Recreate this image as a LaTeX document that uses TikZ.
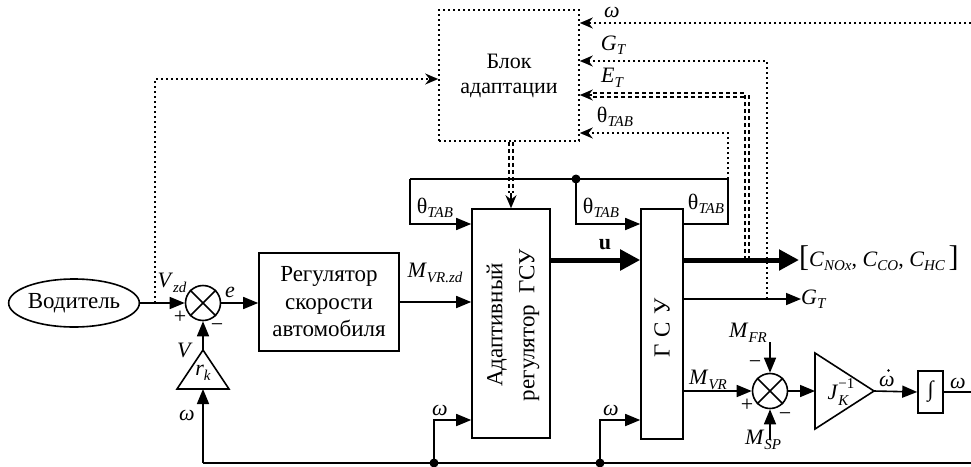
\documentclass[tikz,border=0pt]{standalone}
\usepackage{fontspec}
\setmainfont{Liberation Serif}
\usetikzlibrary{arrows.meta,shapes.geometric,calc}

% italic letter with italic subscript
\newcommand\subit[2]{\textit{#1}\raisebox{-0.45ex}{\fontsize{15}{15}\selectfont\itshape #2}}
\newcommand\thetatab{θ\raisebox{-0.45ex}{\fontsize{15}{15}\selectfont\itshape TAB}}

\tikzset{
  ln/.style={line width=1.6pt},
  blk/.style={draw, line width=1.6pt, inner sep=0pt, align=center},
  arr/.style={ln, -{Triangle[length=15pt,width=12pt]}},
  thickarr/.style={line width=5pt, -{Triangle[length=20pt,width=20pt]}},
  dotln/.style={line width=1.6pt, dash pattern=on 1.6pt off 3.4pt},
  dotarr/.style={dotln, -{Stealth[length=13pt,width=11pt]}},
  dbl/.style={line width=1.4pt, double distance=2.6pt, dash pattern=on 4pt off 3pt},
  headonly/.style={line width=1.4pt, -{Stealth[length=13pt,width=11pt]}},
  lab/.style={inner sep=0pt},
  junc/.style={circle, fill, minimum size=9pt, inner sep=0pt},
  sumj/.style={circle, draw, line width=1.6pt, minimum size=35pt, inner sep=0pt},
}

\begin{document}
\begin{tikzpicture}[x=1pt, y=-1pt, font=\fontsize{22}{27}\selectfont]
\useasboundingbox (0,0) rectangle (971,466);

% ---- blocks ----
\node[blk, ellipse, minimum width=126pt, minimum height=48pt, font=\fontsize{23}{27}\selectfont] (drv) at (74,303) {Водитель};
\node[sumj] (s1) at (203,303) {};
\draw[ln] (s1.north east) -- (s1.south west) (s1.north west) -- (s1.south east);
\node[blk, minimum width=140pt, minimum height=98pt, font=\fontsize{23}{27.5}\selectfont] (reg) at (329,302) {Регулятор\\скорости\\автомобиля};
\node[blk, minimum width=78pt, minimum height=229pt] (adr) at (511,323.5) {};
\node[rotate=90, align=center, font=\fontsize{23}{32}\selectfont] (adrtxt) at (513,325) {Адаптивный\\регулятор~~ГСУ};
\node[blk, minimum width=42pt, minimum height=230pt] (gsu) at (662,324) {};
\node[rotate=90, font=\fontsize{23}{27}\selectfont] (gsutxt) at (662,328) {Г\hspace{7pt}С\hspace{7pt}У};
\node[draw, dotln, minimum width=140pt, minimum height=131pt, align=center, inner sep=0pt,
      font=\fontsize{22}{25}\selectfont] (ada) at (509,75.5) {Блок\\адаптации};
\node[sumj] (s2) at (770,391) {};
\draw[ln] (s2.north east) -- (s2.south west) (s2.north west) -- (s2.south east);
\node[blk, minimum width=25pt, minimum height=42pt] (int) at (930.5,392) {∫};

% gain triangles
\coordinate (jkl) at (815,391);
\coordinate (jkr) at (874,391);
\draw[ln] (815,353) -- (jkr) -- (815,429) -- cycle;
\coordinate (rkt) at (203,350);
\coordinate (rkb) at (203,389);
\draw[ln] (177,389) -- (rkt) -- (229,389) -- cycle;

% ---- level and corner points ----
\coordinate (yth) at (0,224);
\coordinate (yu) at (0,260);
\coordinate (yw) at (0,420);
\coordinate (yw1) at (0,23);
\coordinate (yg) at (0,61);
\coordinate (ye) at (0,95);
\coordinate (yt) at (0,133);
\coordinate (yl) at (0,79);
\coordinate (tl) at (410,179);
\coordinate (tm) at (576,179);
\coordinate (tr) at (728,179);
\coordinate (wtop) at (971,23);
\coordinate (gtp) at (767,299);
\coordinate (etp) at (747,260);
\coordinate (etk) at (592,95);
\coordinate (vz) at (155,303);
\coordinate (ddk) at (511,193);
\coordinate (mfr) at (770,342);
\coordinate (msp) at (770,440);
\coordinate (wout) at (971,392);
\coordinate (b0) at (203,463);
\coordinate (b1) at (434,463);
\coordinate (b2) at (600,463);
\coordinate (bend) at (971,463);

% ---- output labels ----
\node[lab, anchor=west] (cl) at (799,258) {{\fontsize{30}{30}\selectfont[}\subit{C}{NOx}, \subit{C}{CO}, \subit{C}{HC}\,{\fontsize{30}{30}\selectfont]}};
\node[lab, anchor=west] (gt) at (801,299) {\subit{G}{T}};

% ---- adaptation links (dotted / double dashed) ----
\draw[dotarr] (wtop) -- (ada.east |- yw1);
\draw[dotarr] (gtp) |- (ada.east |- yg);
\draw[dbl] (etp) |- (etk);
\draw[headonly] (etk) -- (ada.east |- ye);
\draw[dotarr] (tr) |- (ada.east |- yt);
\draw[dotarr] (vz) |- (ada.west |- yl);
\draw[dbl] (ada.south -| adr.north) -- (ddk);
\draw[headonly] (ddk) -- (adr.north);

% ---- signal lines ----
\draw[arr] (drv.east) -- (s1.west);
\draw[arr] (s1.east) -- (s1.east -| reg.west);
\draw[arr] (reg.east) -- (reg.east -| adr.west);
\draw[ln] (tl) -- (tr);
\draw[arr] (tl) |- (adr.west |- yth);
\draw[arr] (tm) |- (gsu.west |- yth);
\draw[ln] (gsu.east |- yth) -| (tr);
\node[junc] (jt) at (tm) {};
\draw[thickarr] (adr.east |- yu) -- (gsu.west |- yu);
\draw[thickarr] (gsu.east |- yu) -- (cl.west |- yu);
\draw[arr] (gsu.east |- gt) -- (gt.west);
\draw[arr] (gsu.east |- s2) -- (s2.west);
\draw[arr] (mfr) -- (s2.north);
\draw[arr] (msp) -- (s2.south);
\draw[arr] (s2.east) -- (jkl);
\draw[arr] (jkr) -- (int.west);
\draw[ln] (int.east) -- (wout);
\draw[ln] (b0) -- (bend);
\draw[arr] (b1) |- (adr.west |- yw);
\draw[arr] (b2) |- (gsu.west |- yw);
\draw[arr] (b0) -- (rkb);
\draw[arr] (rkt) -- (s1.south);
\node[junc] (j1) at (b1) {};
\node[junc] (j2) at (b2) {};

% ---- labels ----
\node[lab] (lvzd) at (172,283) {\subit{V}{zd}};
\node[lab] (lp1) at (180,317) {+};
\node[lab] (lm1) at (217,328) {−};
\node[lab] (le) at (230,292) {\textit{e}};
\node[lab] (lmz) at (435,273) {\subit{M}{VR.zd}};
\node[lab] (lth1) at (435,208) {\thetatab};
\node[lab] (lth2) at (601,208) {\thetatab};
\node[lab] (lth3) at (706,204) {\thetatab};
\node[lab] (lu) at (605,245) {\textbf{u}};
\node[lab] (lw0) at (612,12) {\textit{ω}};
\node[lab] (lgt) at (613,45) {\subit{G}{T}};
\node[lab] (let) at (612,78) {\subit{E}{T}};
\node[lab] (lth4) at (615,117) {\thetatab};
\node[lab] (lw1) at (187,415) {\textit{ω}};
\node[lab] (lv) at (185,350) {\textit{V}};
\node[lab] (lrk) at (203,373) {\subit{r}{k}};
\node[lab] (lw2) at (440,410) {\textit{ω}};
\node[lab] (lw3) at (611,410) {\textit{ω}};
\node[lab] (lmvr) at (708,380) {\subit{M}{VR}};
\node[lab] (lp2) at (747,405) {+};
\node[lab] (lmfr) at (748,333) {\subit{M}{FR}};
\node[lab] (lm2) at (755,365) {−};
\node[lab] (lmsp) at (763,440) {\subit{M}{SP}};
\node[lab] (lm3) at (785,417) {−};
\node[lab] (ljk) at (838,392) {\textit{J}\makebox[0pt][l]{\raisebox{1.1ex}{\fontsize{15}{15}\selectfont −1}}\raisebox{-0.5ex}{\fontsize{15}{15}\selectfont\itshape K}\hspace{8pt}};
% time derivative: omega with a dot above
\node[lab] (lwd) at (887,381) {\textit{ω}};
\fill ($(lwd.north)+(1.5,-5)$) circle (1.4pt);
\node[lab] (lw4) at (958,383) {\textit{ω}};
\end{tikzpicture}
\end{document}
